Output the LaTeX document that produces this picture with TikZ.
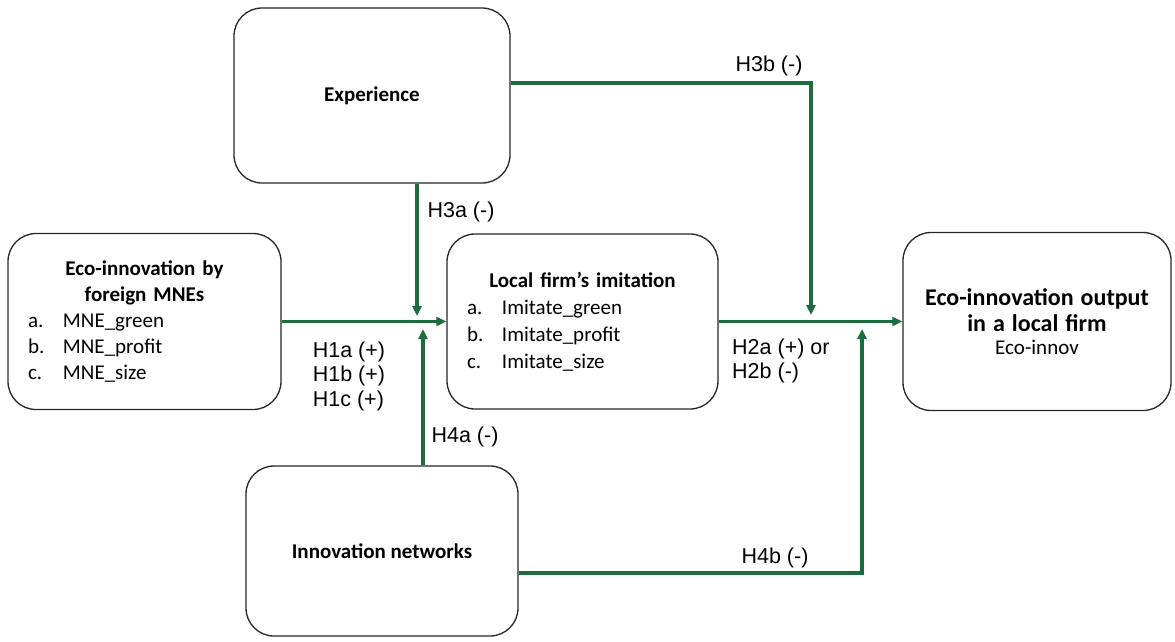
\documentclass[tikz,border=0pt]{standalone}
\usepackage{fontspec}
\setmainfont{Carlito}
\newfontfamily\labelfont{Liberation Sans}
\usetikzlibrary{arrows.meta}

\definecolor{linkgreen}{RGB}{28,108,62}
\newcommand{\itemline}[2]{\makebox[35pt][l]{#1}#2}

\begin{document}
\begin{tikzpicture}[x=1pt, y=-1pt,
    box/.style={draw=black!85, line width=1.3pt, rounded corners=28pt, fill=white,
        inner xsep=20pt, inner ysep=0pt, font=\fontsize{21}{26}\selectfont},
    arr/.style={draw=linkgreen, line width=3.2pt, -{Triangle[length=10pt, width=9pt]}},
    hyp/.style={font=\labelfont\fontsize{21.5}{24.5}\selectfont, inner sep=0pt, align=left}]

    % Fix the size of the picture
    \useasboundingbox (0,0) rectangle (1175,641);

    % Draw the boxes
    \node[box, minimum width=276, minimum height=175] (exp) at (372,95.5) {\bfseries Experience};
    \node[box, minimum height=176, text width=233, align=left] (mne) at (144.5,321.5)
        {{\centering\bfseries Eco-innovation by\\foreign MNEs\par}
         \itemline{a.}{MNE\_green}\\
         \itemline{b.}{MNE\_profit}\\
         \itemline{c.}{MNE\_size}};
    \node[box, minimum height=175, text width=231, align=left, font=\fontsize{21}{27}\selectfont] (imit) at (582.5,321.5)
        {{\centering\bfseries Local firm’s imitation\par}
         \itemline{a.}{Imitate\_green}\\
         \itemline{b.}{Imitate\_profit}\\
         \itemline{c.}{Imitate\_size}};
    \node[box, minimum height=178, text width=228, align=center] (out) at (1037,321.5)
        {{\fontsize{24}{26}\selectfont\bfseries Eco-innovation output\\in a local firm\par}
         {\fontsize{21}{23}\selectfont Eco-innov\par}};
    \node[box, minimum width=272, minimum height=170] (innov) at (382,551) {\bfseries Innovation networks};

    % Define the ends and turns of the connectors
    \coordinate (h3atip) at (417,316);
    \coordinate (h4atip) at (423,329);
    \coordinate (h3bturn) at (811,83);
    \coordinate (h3btip) at (811,315);
    \coordinate (h4bturn) at (862,573);
    \coordinate (h4btip) at (862,329);

    % Draw the arrows
    \draw[arr] (mne.east) -- (imit.west);
    \draw[arr] (imit.east) -- (out.west);
    \draw[arr] (exp.south -| h3atip) -- (h3atip);
    \draw[arr] (innov.north -| h4atip) -- (h4atip);
    \draw[arr] (exp.east |- h3bturn) -- (h3bturn) -- (h3btip);
    \draw[arr] (innov.east |- h4bturn) -- (h4bturn) -- (h4btip);

    % Add the hypothesis labels
    \node[hyp] (h3b) at (769,66) {H3b (-)};
    \node[hyp] (h3a) at (461,212) {H3a (-)};
    \node[hyp] (h1) at (349,376) {H1a (+)\\H1b (+)\\H1c (+)};
    \node[hyp, anchor=west] (h2) at (732,361) {H2a (+) or\\H2b (-)};
    \node[hyp] (h4a) at (465,437) {H4a (-)};
    \node[hyp] (h4b) at (775,558) {H4b (-)};

\end{tikzpicture}
\end{document}
